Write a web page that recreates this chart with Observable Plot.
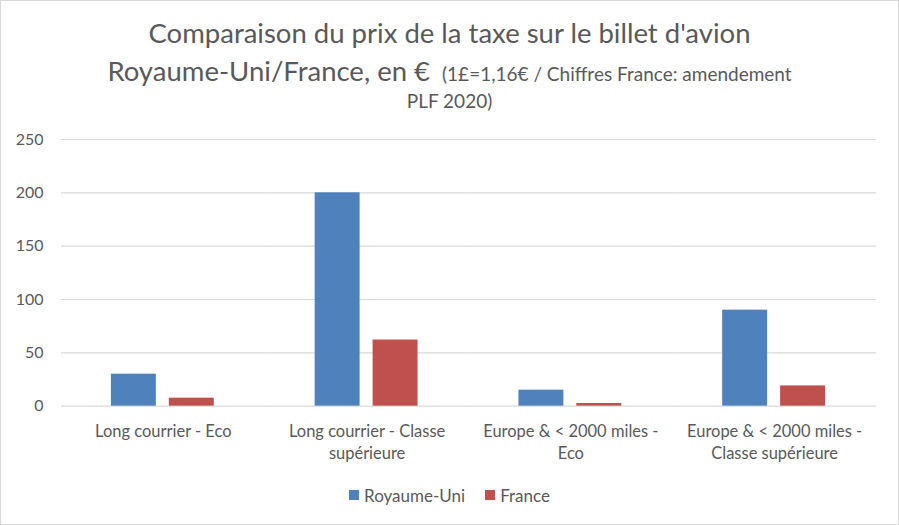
<!DOCTYPE html>
<html>
<head>
<meta charset="utf-8">
<script src="https://cdn.jsdelivr.net/npm/d3@7"></script>
<script src="https://cdn.jsdelivr.net/npm/@observablehq/plot@0.6"></script>
<style>
  html, body { margin: 0; padding: 0; background: #fff; }
  #chart {
    position: relative; width: 897px; height: 523px;
    border: 1px solid #d9d9d9; background: #fff; overflow: hidden;
    font-family: Lato, "Noto Sans", sans-serif; color: #595959;
  }
  .t { position: absolute; left: 0; width: 897px; text-align: center; white-space: nowrap; }
  #l1 { top: 15px; font-size: 27.5px; }
  #l2 { top: 53px; font-size: 27.5px; }
  #l2 .small { font-size: 19px; margin-left: 12px; }
  #l3 { top: 88px; font-size: 19px; }
  #plot { position: absolute; left: -1px; top: 119px; }
  #legend { position: absolute; top: 482px; left: 0; width: 897px; text-align: center; font-size: 17px; }
  #legend .item { display: inline-flex; align-items: center; margin: 0 10px; }
  #legend .sw { width: 10px; height: 10px; display: inline-block; margin-right: 5px; }
</style>
</head>
<body>
<div id="chart">
  <div class="t" id="l1">Comparaison du prix de la taxe sur le billet d'avion</div>
  <div class="t" id="l2">Royaume-Uni/France, en €<span class="small">(1£=1,16€ / Chiffres France: amendement</span></div>
  <div class="t" id="l3">PLF 2020)</div>
  <div id="plot"></div>
  <div id="legend"></div>
</div>
<script>
const categories = [
  "Long courrier - Eco",
  "Long courrier - Classe supérieure",
  "Europe & < 2000 miles - Eco",
  "Europe & < 2000 miles - Classe supérieure"
];
const categoryLabels = [
  "Long courrier - Eco",
  "Long courrier - Classe\nsupérieure",
  "Europe & < 2000 miles -\nEco",
  "Europe & < 2000 miles -\nClasse supérieure"
];
const series = ["Royaume-Uni", "France"];
const ukValues = [30, 200, 15, 90];
const frValues = [7.5, 62, 2.5, 19];
const colors = ["#4f81bd", "#c0504d"];
const yTicks = [0, 50, 100, 150, 200, 250];

const data = [];
categories.forEach((c, i) => {
  data.push({cat: c, series: series[0], value: ukValues[i]});
  data.push({cat: c, series: series[1], value: frValues[i]});
});
const labelOf = new Map(categories.map((c, i) => [c, categoryLabels[i]]));

const chart = Plot.plot({
  width: 899,
  height: 356,
  marginLeft: 61,
  marginRight: 22,
  marginTop: 19,
  marginBottom: 70,
  style: {fontFamily: "Lato, 'Noto Sans', sans-serif", fontSize: "16px", color: "#595959", background: "transparent"},
  fx: {domain: categories, padding: 0, label: null},
  x: {domain: series, axis: null, paddingInner: 0.22, paddingOuter: 0.84},
  y: {domain: [0, 250], label: null},
  color: {domain: series, range: colors},
  marks: [
    Plot.gridY(yTicks, {stroke: "#d9d9d9", strokeOpacity: 1, strokeWidth: 1.2}),
    Plot.axisY(yTicks, {tickSize: 0, tickPadding: 18, label: null, fontSize: 16}),
    Plot.axisFx({anchor: "bottom", tickSize: 0, tickPadding: 16, label: null, lineHeight: 1.3, fontSize: 16.5,
      tickFormat: d => labelOf.get(d)}),
    Plot.barY(data, {fx: "cat", x: "series", y: "value", fill: "series"})
  ]
});
document.getElementById("plot").appendChild(chart);

const legend = document.getElementById("legend");
series.forEach((s, i) => {
  const item = document.createElement("span");
  item.className = "item";
  const sw = document.createElement("span");
  sw.className = "sw";
  sw.style.background = colors[i];
  item.appendChild(sw);
  item.appendChild(document.createTextNode(s));
  legend.appendChild(item);
});
</script>
</body>
</html>
